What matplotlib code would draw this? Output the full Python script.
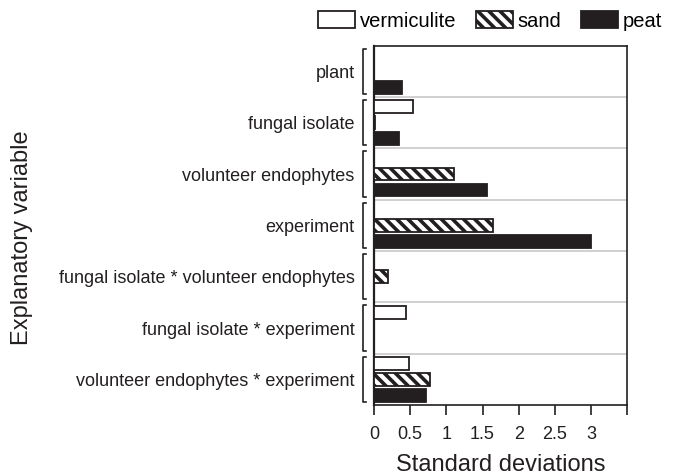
import matplotlib
matplotlib.use("Agg")
import matplotlib.pyplot as plt
import numpy as np
from matplotlib.transforms import blended_transform_factory

plt.rcParams['font.family'] = ['Liberation Sans', 'DejaVu Sans']
plt.rcParams['hatch.linewidth'] = 2.6
plt.rcParams['hatch.color'] = '#231f20'

# data (standard deviations)
variables = ["plant", "fungal isolate", "volunteer endophytes", "experiment",
             "fungal isolate * volunteer endophytes", "fungal isolate * experiment",
             "volunteer endophytes * experiment"]
vermiculite = [0.0, 0.54, 0.0, 0.0, 0.0, 0.44, 0.48]
sand = [0.0, 0.02, 1.10, 1.64, 0.19, 0.0, 0.78]
peat = [0.39, 0.34, 1.56, 3.0, 0.0, 0.0, 0.72]
xticks = [0, 0.5, 1, 1.5, 2, 2.5, 3, 3.5]
xticklabels = ["0", "0.5", "1", "1.5", "2", "2.5", "3", ""]

dark = '#231f20'
fig = plt.figure(figsize=(6.75, 4.75), dpi=100)
ax = fig.add_axes([374/675, 70/475, 253.3/675, 359.3/475])

y = np.arange(len(variables))
h = 0.25
off = 0.31
ax.barh(y - off, vermiculite, height=h, color='white', edgecolor=dark, lw=1.3, label='vermiculite', zorder=3)
ax.barh(y, sand, height=h, color='white', edgecolor=dark, lw=1.3, hatch='\\\\\\', label='sand', zorder=3)
ax.barh(y + off, peat, height=h, color=dark, edgecolor=dark, lw=1.3, label='peat', zorder=3)

for k in range(len(variables) - 1):
    ax.axhline(k + 0.5, color='#c8c8c8', lw=1.2, zorder=1)

# brackets to the left of the axis
trans = blended_transform_factory(ax.transAxes, ax.transData)
x0 = -11/253.3
x1 = -8/253.3
for k in range(len(variables)):
    ax.plot([x1, x0, x0, x1], [k - 0.44, k - 0.44, k + 0.44, k + 0.44],
            transform=trans, clip_on=False, color=dark, lw=1.2)

ax.set_xlim(0, 3.5)
ax.set_ylim(len(variables) - 0.5, -0.5)
ax.set_yticks(y)
ax.set_yticklabels(variables, fontsize=13, color=dark)
ax.tick_params(axis='y', length=0, pad=14)
ax.set_xticks(xticks)
ax.set_xticklabels(xticklabels, fontsize=13, color=dark)
ax.tick_params(axis='x', length=7, width=1.2, pad=8, color=dark)
for s in ax.spines.values():
    s.set_linewidth(1.2)
    s.set_color(dark)
ax.spines['left'].set_linewidth(1.6)

ax.set_xlabel("Standard deviations", fontsize=17, color=dark, labelpad=8)
fig.text(22/675, 0.5, "Explanatory variable", rotation=90, fontsize=17,
         color=dark, ha='center', va='center')

fig.legend(loc='center', bbox_to_anchor=(490/675, 1 - 21/475), ncol=3, frameon=False,
           fontsize=14.5, handlelength=1.85, handleheight=0.85, handletextpad=0.25,
           columnspacing=0.95, borderpad=0)

fig.savefig("out.png", dpi=100)
